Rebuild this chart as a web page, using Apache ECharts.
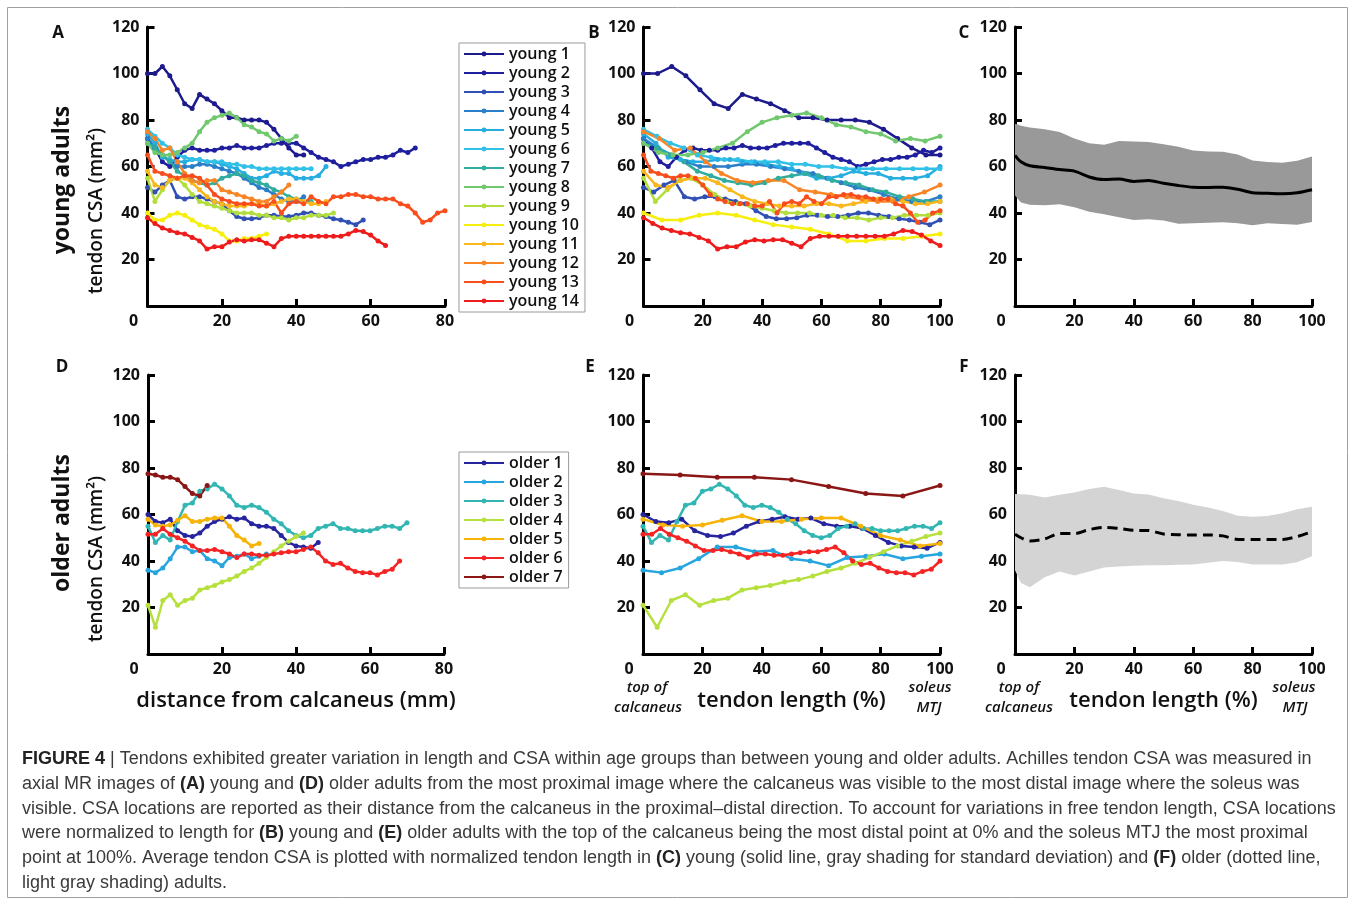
<!DOCTYPE html>
<html>
<head>
<meta charset="utf-8">
<script src="https://cdn.jsdelivr.net/npm/echarts@6/dist/echarts.min.js"></script>
<style>
  html, body { margin: 0; padding: 0; background: #fff; }
  #chart { width: 1357px; height: 904px; }
</style>
</head>
<body>
<div id="chart"></div>
<script>
const sliceMm = 2;
const young1 = [100, 100, 103, 99, 93, 87, 85, 91, 89, 87, 84, 81, 81, 80, 80, 80, 79, 76, 72, 68, 65, 65];
const young2 = [72, 68, 62, 60, 64, 67, 68, 67, 67, 67, 68, 68, 69, 68, 68, 68, 69, 70, 70, 70, 70, 68, 66, 64, 63, 62, 60, 61, 62, 63, 63, 64, 64, 65, 67, 66, 68];
const young3 = [51, 49, 52, 54, 47, 46, 47, 47, 46, 45, 44, 41, 38.5, 37.5, 37.5, 38, 39, 39, 38.5, 38.5, 39, 40, 40, 39, 38.5, 37.5, 37, 36, 35, 37];
const young4 = [72, 68, 65, 62, 60, 60, 60, 61, 61, 60, 59, 58, 57, 55, 53, 51, 50, 48, 46, 45, 45, 47];
const young5 = [74, 70, 64, 63, 62, 62, 63, 63, 62, 62, 61, 60, 59, 57, 55, 55, 56, 58, 57, 57, 55, 55, 55, 56, 60];
const young6 = [76, 73, 70, 68, 65, 64, 63, 63, 62, 62, 62, 61, 61, 60, 60, 59, 59, 59, 59, 59, 59, 59, 59];
const young7 = [70, 68, 65, 62, 58, 56, 54, 53, 52, 53, 55, 56, 57, 56, 54, 53, 52, 50, 49, 47, 46, 45, 45];
const young8 = [70, 66, 65, 65, 66, 68, 70, 75, 79, 81, 82, 83, 81, 78, 77, 75, 74, 71, 72, 71, 73];
const young9 = [55, 45, 50, 54, 55, 52, 48, 45, 44, 43, 42, 41, 40, 40, 40, 39, 39, 38, 38, 37, 38, 38, 39, 39, 39, 40];
const young10 = [40, 37, 37, 39, 40, 39, 37, 35, 34, 33, 31, 28, 28, 29, 29, 30, 31];
const young11 = [58, 52, 51, 54, 55, 55, 53, 50, 47, 45, 44, 43, 43, 43, 44, 44, 43, 44, 45, 46, 46, 45, 44, 44, 45];
const young12 = [75, 72, 67, 68, 62, 57, 54, 53, 54, 54, 50, 49, 48, 47, 46, 45, 45, 47, 49, 52];
const young13 = [65, 58, 57, 56, 55, 56, 56, 55, 52, 48, 46, 45, 44, 44, 44, 43, 43, 45, 40, 44, 45, 44, 47, 45, 44, 47, 47, 48, 48, 47, 47, 46, 46, 46, 44, 43, 40, 36, 37, 40, 41];
const young14 = [38, 35.5, 33.5, 32.5, 31.5, 31, 29.5, 28, 24.5, 25.5, 25.5, 27.5, 28.5, 28, 28.5, 28.5, 27, 25.5, 29, 30, 30, 30, 30, 30, 30, 30, 30, 31, 32.5, 32, 30.5, 28, 26];

const older1 = [60, 57, 56.5, 58, 53, 51, 50.5, 52, 55, 57, 58, 59, 58, 58.5, 56, 55, 55, 54, 51, 48, 46.5, 46, 45.5, 48];
const older2 = [36, 35, 37, 41, 46, 46, 44, 44.5, 41, 40, 38, 41.5, 42, 43, 41, 42, 43];
const older3 = [55, 48, 51, 49, 57, 64, 65, 70, 71, 73, 71, 68, 64, 63, 64, 63, 61, 58, 56, 53, 51, 50, 51, 54, 55, 56, 54, 54, 53, 53, 53, 54, 55, 55, 54, 56.5];
const older4 = [21, 11.5, 23, 25.5, 21, 23, 24, 27.5, 28.5, 29.5, 31, 32, 33.5, 35.5, 37, 39, 41.5, 44, 46.5, 48.5, 50.5, 52];
const older5 = [58, 55.5, 55, 55.5, 57.5, 59.5, 57, 57, 58, 58.5, 58.5, 55, 51, 49, 46.5, 47.5];
const older6 = [51.5, 51.5, 54, 51.5, 50, 48.5, 46.5, 44.5, 44.5, 45, 44, 43, 41.5, 43, 43, 42.5, 42.5, 43, 43.5, 44, 44, 45, 46, 43.5, 40, 38.5, 39, 37, 35.5, 35, 35, 34, 35.5, 36.5, 40];
const older7 = [77.5, 77, 76, 76, 75, 72, 69, 68, 72.5];

// group averages vs normalized tendon length (panels C/F)
const pctGrid = [0, 2, 5, 10, 15, 20, 25, 30, 35, 40, 45, 50, 55, 60, 65, 70, 75, 80, 85, 90, 95, 100];
const youngMean = [64.8, 62, 60.3, 59.6, 58.7, 58, 55.5, 54.4, 54.6, 53.6, 54, 52.8, 51.8, 51.1, 51, 51.1, 50.2, 48.7, 48.5, 48.3, 48.7, 50];
const youngUpper = [78.4, 77.5, 76.8, 76, 74.8, 72, 70, 69.4, 71, 70.8, 70.5, 69.6, 68.5, 66.9, 66.5, 66.3, 65.2, 62.6, 61.9, 61.6, 62.5, 64.3];
const youngLower = [47.5, 44.5, 43.5, 43.3, 43.8, 42.5, 40.5, 39.5, 38.2, 37, 37.3, 36.8, 35.4, 35.6, 35.8, 36, 35.6, 34.7, 35.6, 35.3, 35, 36.1];
const olderMean = [51.5, 50, 48.6, 49.5, 51.8, 51.8, 53.5, 54.5, 54, 53.2, 53.1, 51.6, 51.3, 51.2, 51.2, 50.8, 49.3, 49.3, 49.3, 49.3, 50.5, 52.6];
const olderUpper = [68.8, 68.7, 68.5, 67.3, 68.5, 69.5, 71, 71.9, 70.5, 69, 68.6, 67, 65.8, 64.2, 63, 61.5, 59.5, 59, 59.4, 60.5, 62.3, 63.3];
const olderLower = [36, 30.5, 28.7, 33, 35.5, 33.8, 35.5, 37.2, 37.6, 38, 38.2, 38.2, 38.4, 38.5, 39.2, 40, 39.6, 38.5, 38.5, 38.5, 39.5, 42];

const youngSets = [young1, young2, young3, young4, young5, young6, young7, young8, young9, young10, young11, young12, young13, young14];
const olderSets = [older1, older2, older3, older4, older5, older6, older7];
const youngNames = youngSets.map((d, i) => 'young ' + (i + 1));
const olderNames = olderSets.map((d, i) => 'older ' + (i + 1));
const youngColors = ['#1c1a8c', '#1e1e9e', '#3050b6', '#2a7fc8', '#27aee0', '#31c0e8', '#30ad9e', '#72c86e', '#b2de3e', '#f6ee0c', '#f8b81e', '#f88526', '#f84e1e', '#ee1c1c'];
const olderColors = ['#26249e', '#27a5de', '#32b6b4', '#b6e03e', '#f8b406', '#f52424', '#8a1616'];

const FONT = '"Open Sans", "Noto Sans", sans-serif';

function mmPoints(vals) {
  return vals.map((v, i) => [i * sliceMm, v]);
}
function pctPoints(vals) {
  return vals.map((v, i) => [i / (vals.length - 1) * 100, v]);
}
function pairs(xs, ys) {
  return xs.map((x, i) => [x, ys[i]]);
}

const chart = echarts.init(document.getElementById('chart'));

const grids = [
  { left: 147.5, top: 27, width: 297.5, height: 279 },
  { left: 643.5, top: 27, width: 296.5, height: 279 },
  { left: 1015, top: 27, width: 297, height: 279 },
  { left: 148, top: 375, width: 296, height: 279 },
  { left: 643, top: 375, width: 297, height: 279 },
  { left: 1015, top: 375, width: 297, height: 279 }
];

const labelStyle = { fontFamily: FONT, fontWeight: 'bold', fontSize: 16, color: '#111' };
const lineStyle = { color: '#000', width: 3 };

function xAxis(gridIndex, max, name) {
  return {
    type: 'value', gridIndex: gridIndex, min: 0, max: max, interval: 20,
    axisLine: { lineStyle: lineStyle },
    axisTick: { inside: true, length: 7, lineStyle: lineStyle },
    splitLine: { show: false },
    axisLabel: Object.assign({}, labelStyle, {
      margin: 7,
      formatter: v => v === 0 ? '{z|0}' : String(v),
      rich: { z: Object.assign({}, labelStyle, { padding: [0, 28, 0, 0] }) }
    }),
    name: name || '',
    nameLocation: 'middle',
    nameGap: 36,
    nameTextStyle: { fontFamily: FONT, fontWeight: 600, fontSize: 22, color: '#111' }
  };
}
function yAxis(gridIndex) {
  return {
    type: 'value', gridIndex: gridIndex, min: 0, max: 120, interval: 20,
    axisLine: { lineStyle: lineStyle },
    axisTick: { inside: true, length: 7, lineStyle: lineStyle },
    splitLine: { show: false },
    axisLabel: Object.assign({}, labelStyle, { margin: 8, showMinLabel: false })
  };
}

function subjectSeries(names, colors, sets, axisIndex, toPoints) {
  return sets.map((vals, i) => ({
    name: names[i], type: 'line', xAxisIndex: axisIndex, yAxisIndex: axisIndex,
    data: toPoints(vals),
    symbol: 'circle', symbolSize: 5, showSymbol: true,
    itemStyle: { color: colors[i] },
    lineStyle: { color: colors[i], width: 2.5 },
    emphasis: { disabled: true }
  }));
}

// standard-deviation band as one polygon through the axis scales, plus the mean line
function bandSeries(axisIndex, upper, lower, mean, fill, dashed) {
  const rows = pctGrid.map((x, i) => [x, lower[i], upper[i]]);
  return [
    {
      type: 'custom', xAxisIndex: axisIndex, yAxisIndex: axisIndex,
      data: rows, encode: { x: 0, y: [1, 2] }, z: 1, silent: true,
      renderItem: function (params, api) {
        if (params.dataIndex !== 0) return null;
        const top = rows.map(r => api.coord([r[0], r[2]]));
        const bottom = rows.map(r => api.coord([r[0], r[1]])).reverse();
        return { type: 'polygon', shape: { points: top.concat(bottom) }, style: { fill: fill } };
      }
    },
    {
      type: 'line', xAxisIndex: axisIndex, yAxisIndex: axisIndex,
      data: pairs(pctGrid, mean), symbol: 'none', smooth: 0.3,
      lineStyle: { color: '#000', width: 3, type: dashed ? [10, 6] : 'solid' }, z: 3
    }
  ];
}

function legend(names, top) {
  return {
    data: names, orient: 'vertical', left: 459, top: top,
    borderColor: '#9a9a9a', borderWidth: 1, padding: [3, 6, 3, 4],
    itemWidth: 40, itemHeight: 6, itemGap: 3, selectedMode: false,
    textStyle: { fontFamily: FONT, fontWeight: 600, fontSize: 16, lineHeight: 16, color: '#111' }
  };
}

function vText(text, x, y, size, weight) {
  return {
    type: 'text', x: x, y: y, rotation: Math.PI / 2,
    style: { text: text, fontFamily: FONT, fontSize: size, fontWeight: weight, fill: '#111', align: 'center', verticalAlign: 'middle' }
  };
}
function hText(text, x, y, size, weight, italic) {
  return {
    type: 'text', x: x, y: y,
    style: { text: text, fontFamily: FONT, fontSize: size, fontWeight: weight, fontStyle: italic ? 'italic' : 'normal',
      fill: '#111', align: 'center', verticalAlign: 'middle' }
  };
}

const captionLines = [
  '{b|FIGURE 4} | Tendons exhibited greater variation in length and CSA within age groups than between young and older adults. Achilles tendon CSA was measured in',
  'axial MR images of {b|(A)} young and {b|(D)} older adults from the most proximal image where the calcaneus was visible to the most distal image where the soleus was',
  'visible. CSA locations are reported as their distance from the calcaneus in the proximal\u2013distal direction. To account for variations in free tendon length, CSA locations',
  'were normalized to length for {b|(B)} young and {b|(E)} older adults with the top of the calcaneus being the most distal point at 0% and the soleus MTJ the most proximal',
  'point at 100%. Average tendon CSA is plotted with normalized tendon length in {b|(C)} young (solid line, gray shading for standard deviation) and {b|(F)} older (dotted line,',
  'light gray shading) adults.'
];
const CAP_FONT = '"Liberation Sans", Arial, sans-serif';
const CAP_SIZE = 18;
const captionText = captionLines.map((t, i) => ({
  type: 'text', x: 22, y: 759 + i * 24.8,
  style: {
    text: t, fontFamily: CAP_FONT, fontSize: CAP_SIZE, fill: '#3a3a3a', align: 'left', verticalAlign: 'middle',
    rich: { b: { fontFamily: CAP_FONT, fontSize: CAP_SIZE, fontWeight: 'bold', fill: '#222' } }
  }
}));

const option = {
  animation: false,
  backgroundColor: '#fff',
  grid: grids,
  xAxis: [
    xAxis(0, 80), xAxis(1, 100), xAxis(2, 100),
    xAxis(3, 80, 'distance from calcaneus (mm)'), xAxis(4, 100, 'tendon length (%)'), xAxis(5, 100, 'tendon length (%)')
  ],
  yAxis: [yAxis(0), yAxis(1), yAxis(2), yAxis(3), yAxis(4), yAxis(5)],
  legend: [legend(youngNames, 43), legend(olderNames, 452)],
  series: [].concat(
    subjectSeries(youngNames, youngColors, youngSets, 0, mmPoints),
    subjectSeries(youngNames, youngColors, youngSets, 1, pctPoints),
    bandSeries(2, youngUpper, youngLower, youngMean, '#999999', false),
    subjectSeries(olderNames, olderColors, olderSets, 3, mmPoints),
    subjectSeries(olderNames, olderColors, olderSets, 4, pctPoints),
    bandSeries(5, olderUpper, olderLower, olderMean, '#d4d4d4', true)
  ),
  graphic: [
    { type: 'rect', shape: { x: 7.5, y: 7.5, width: 1340, height: 890 }, style: { fill: 'none', stroke: '#a0a0a0', lineWidth: 1 } },
    hText('A', 58, 33, 17, 'bold'), hText('B', 594, 33, 17, 'bold'), hText('C', 964, 33, 17, 'bold'),
    hText('D', 62, 367, 17, 'bold'), hText('E', 590, 367, 17, 'bold'), hText('F', 964, 367, 17, 'bold'),
    vText('young adults', 62, 180, 23, 'bold'),
    vText('tendon CSA (mm\u00b2)', 97, 211, 19, 600),
    vText('older adults', 62, 523, 23, 'bold'),
    vText('tendon CSA (mm\u00b2)', 97, 559, 19, 600),
    hText('top of', 647, 688, 15, 600, true), hText('calcaneus', 648, 708, 15, 600, true),
    hText('soleus', 930, 688, 15, 600, true), hText('MTJ', 929, 708, 15, 600, true),
    hText('top of', 1019, 688, 15, 600, true), hText('calcaneus', 1019, 708, 15, 600, true),
    hText('soleus', 1294, 688, 15, 600, true), hText('MTJ', 1295, 708, 15, 600, true)
  ].concat(captionText)
};

chart.setOption(option);
</script>
</body>
</html>
